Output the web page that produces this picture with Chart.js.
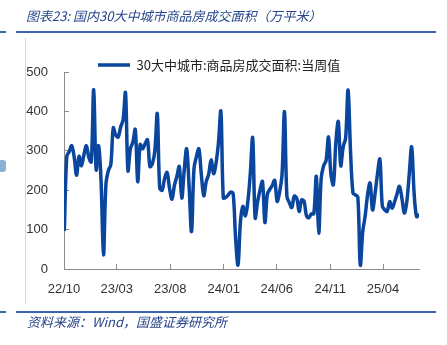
<!DOCTYPE html>
<html><head><meta charset="utf-8">
<script src="https://cdn.jsdelivr.net/npm/chart.js@4.4.1/dist/chart.umd.min.js"></script>
<style>
html,body{margin:0;padding:0;background:#fff;}
#wrap{position:relative;width:447px;height:345px;overflow:hidden;background:#fff;}
#c{position:absolute;left:0;top:0;}
.title{position:absolute;left:26px;top:7px;font:italic 13px "Noto Sans CJK SC";color:#27458a;white-space:nowrap;line-height:18px;}
.rule{position:absolute;height:2px;background:#3b63ad;}
.src{position:absolute;left:27px;top:313px;font:italic 13px "Noto Sans CJK SC";color:#27458a;white-space:nowrap;line-height:18px;}
.vline{position:absolute;left:25px;top:38px;width:1px;height:266px;background:#d6d6d6;}
.mark{position:absolute;left:0;top:160px;width:6px;height:12px;background:#6f9bc9;border-radius:0 3px 3px 0;opacity:.8;}
</style>
</head><body>
<div id="wrap">
<canvas id="c" width="447" height="345"></canvas>
<div class="title">图表23: 国内30大中城市商品房成交面积（万平米）</div>
<div class="rule" style="left:0;top:31px;width:6px"></div>
<div class="rule" style="left:16px;top:31px;width:420px"></div>
<div class="vline"></div>
<div class="mark"></div>
<div class="rule" style="left:0;top:311px;width:6px"></div>
<div class="rule" style="left:16px;top:311px;width:420px"></div>
<div class="src">资料来源：Wind，国盛证券研究所</div>
</div>
<script>
// Weekly transaction area, 30 major cities (10k m²), weeks starting 2022-10-02
const seriesLabel = '30大中城市:商品房成交面积:当周值';
const areaValues = [
  100,286,298,313,285,238,286,262,290,313,283,272,455,252,313,225,36,215,250,265,
  358,340,335,360,378,447,250,305,322,354,222,316,305,318,328,260,268,300,394,205,
  200,230,245,205,177,212,235,260,180,250,305,210,95,255,285,305,240,186,222,240,
  277,242,268,320,400,180,182,188,195,192,80,10,120,159,135,170,240,333,130,170,
  200,222,118,190,202,212,225,172,195,240,399,184,168,156,185,180,146,175,172,135,
  130,140,140,235,91,230,262,275,335,240,214,320,374,262,310,332,454,300,193,188,
  182,10,95,135,190,218,150,190,240,279,160,150,146,171,154,170,190,210,180,142,
  170,240,310,193,133,137
];
const firstWeek = '2022-10-02';
const xTickLabels = ['22/10','23/03','23/08','24/01','24/06','24/11','25/04'];
const yTickValues = [0,100,200,300,400,500];

const DAY = 864e5;
const origin = Date.UTC(2022, 9, 1);
const weekDates = [];
for (let i = 0; i < areaValues.length; i++) {
  weekDates.push(new Date(Date.parse(firstWeek) + i * 7 * DAY).toISOString().slice(0, 10));
}
const dayOf = s => (Date.parse(s) - origin) / DAY;
const tickDays = xTickLabels.map(l => {
  const yy = 2000 + parseInt(l.slice(0, 2), 10), mm = parseInt(l.slice(3), 10);
  return (Date.UTC(yy, mm - 1, 1) - origin) / DAY;
});
const points = weekDates.map((d, i) => ({x: dayOf(d), y: areaValues[i]}));

const legendShift = {
  id: 'legendShift',
  afterLayout(chart) {
    const L = chart.legend;
    if (!L || !L.lineWidths) return;
    const cur = (L.left + L.right - L.lineWidths[0]) / 2;
    const dx = 98 - cur, dy = 9.5;
    L.left += dx; L.right += dx; L.top += dy; L.bottom += dy;
  }
};

const axisColor = '#8c8c8c';
const tickFont = {family: '"Liberation Sans", Arial, sans-serif', size: 13};

new Chart(document.getElementById('c'), {
  type: 'line',
  data: {
    datasets: [{
      label: seriesLabel,
      data: points,
      borderColor: '#0a469e',
      backgroundColor: '#0a469e',
      borderWidth: 3.5,
      pointRadius: 0,
      tension: 0.35,
      fill: false,
      borderCapStyle: 'round',
      borderJoinStyle: 'round'
    }]
  },
  options: {
    responsive: false,
    animation: false,
    devicePixelRatio: 1,
    events: [],
    layout: {padding: {left: 0, right: 28, top: 49, bottom: 46}},
    plugins: {
      tooltip: {enabled: false},
      legend: {
        display: true,
        position: 'top',
        labels: {
          usePointStyle: true,
          pointStyle: 'line',
          pointStyleWidth: 32,
          padding: 0,
          color: '#222',
          font: {family: '"Noto Sans CJK SC", sans-serif', size: 13}
        }
      }
    },
    scales: {
      x: {
        type: 'linear',
        min: 0,
        max: dayOf(weekDates[weekDates.length - 1]),
        afterBuildTicks: s => { s.ticks = tickDays.map(v => ({value: v})); },
        afterFit: s => { s.height = 30; },
        ticks: {
          autoSkip: false,
          maxRotation: 0,
          padding: 18,
          color: '#333',
          font: tickFont,
          callback: v => { const i = tickDays.indexOf(v); return i >= 0 ? xTickLabels[i] : ''; }
        },
        grid: {drawOnChartArea: false, drawTicks: true, tickLength: -5, color: axisColor},
        border: {display: true, color: axisColor, width: 1}
      },
      y: {
        min: 0,
        max: 500,
        afterBuildTicks: s => { s.ticks = yTickValues.map(v => ({value: v})); },
        afterFit: s => { s.width = 64; },
        ticks: {padding: 21, color: '#333', font: tickFont},
        grid: {drawOnChartArea: false, drawTicks: true, tickLength: -5, color: axisColor},
        border: {display: true, color: axisColor, width: 1}
      }
    }
  },
  plugins: [legendShift]
});
</script>
</body></html>
